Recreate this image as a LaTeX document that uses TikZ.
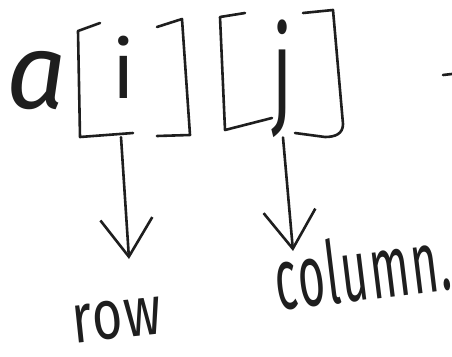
\documentclass[tikz,border=0pt]{standalone}
\usepackage{fontspec}
\usetikzlibrary{arrows.meta}
\newfontfamily\handfont{Fira Sans}
\newfontfamily\handwide[LetterSpace=4]{Fira Sans}
\definecolor{ink}{HTML}{1E1E1E}
\tikzset{
  pen/.style={draw=ink, line width=2.6pt, line cap=round, line join=round},
  arr/.style={pen, -{Straight Barb[length=38pt,width=52pt]}},
  word/.style={text=ink, inner sep=0pt, transform shape},
}
\begin{document}
\begin{tikzpicture}[x=1pt,y=-1pt]
\useasboundingbox[fill=white] (0,0) rectangle (452,356);
% letters
\node[word, anchor=base, font=\handfont\itshape\fontsize{106}{106}\selectfont] (a) at (37,108) {a};
\node[word, anchor=base, font=\handfont\fontsize{80}{80}\selectfont] (i) at (124,98) {i};
\node[word, anchor=base, yscale=1.65, font=\handfont\fontsize{72}{72}\selectfont] (j) at (283,112) {j};
% brackets
\draw[pen] (100,23) -- (78,31) -- (80,137) -- (133,133);
\draw[pen] (157,27) -- (182,19) -- (190,135) -- (157,136);
\draw[pen] (245,13) -- (220,17) -- (225,130) -- (272,118);
\draw[pen] (303,13) -- (333,10) -- (343,124) .. controls (343,134) and (335,137) .. (325,137) -- (295,133);
\draw[pen] (443,75) -- (452,74);
% targets
\node[word, rotate=6, yscale=1.35, font=\handwide\fontsize{52}{52}\selectfont] (row) at (117,320) {row};
\node[word, rotate=7, yscale=1.9, font=\handwide\fontsize{46}{46}\selectfont] (col) at (362,268) {column.};
\coordinate (tipL) at (129,259);
\coordinate (tipR) at (293,251);
% arrows
\draw[arr] ([xshift=-3pt,yshift=-39pt]i.south) -- (tipL);
\draw[arr] (j.south) -- (tipR);
\end{tikzpicture}
\end{document}
